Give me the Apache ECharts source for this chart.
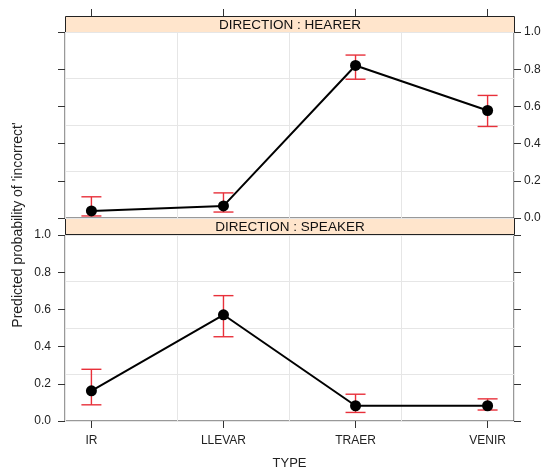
<!DOCTYPE html>
<html>
<head>
<meta charset="utf-8">
<script src="https://cdn.jsdelivr.net/npm/echarts@6/dist/echarts.min.js"></script>
<style>
  html, body { margin: 0; background: #fff; }
  #chart { width: 546px; height: 468px; }
</style>
</head>
<body>
<div id="chart"></div>
<script>
// categories (placed at x = 1..4)
var types = ['IR', 'LLEVAR', 'TRAER', 'VENIR'];
var typePos = [1, 2, 3, 4];

// DIRECTION : HEARER
var hearerFit = [0.038, 0.065, 0.82, 0.578];
var hearerLower = [0.011, 0.032, 0.746, 0.492];
var hearerUpper = [0.114, 0.135, 0.876, 0.659];

// DIRECTION : SPEAKER
var speakerFit = [0.162, 0.571, 0.082, 0.082];
var speakerLower = [0.087, 0.453, 0.046, 0.059];
var speakerUpper = [0.278, 0.674, 0.144, 0.119];

var chart = echarts.init(document.getElementById('chart'));

var font = 'Liberation Sans, Arial, sans-serif';
var axisColor = '#333';
var gridColor = '#e6e6e6';
var barColor = '#e8303a';

function points(fit) {
  return typePos.map(function (x, i) { return [x, fit[i]]; });
}
function bars(lower, upper) {
  return typePos.map(function (x, i) { return [x, lower[i], upper[i]]; });
}

// red error bar with caps
function errBar(params, api) {
  var x = api.value(0);
  var lo = api.coord([x, api.value(1)]);
  var hi = api.coord([x, api.value(2)]);
  var w = 10;
  var st = { stroke: barColor, lineWidth: 1.4 };
  return {
    type: 'group',
    children: [
      { type: 'line', shape: { x1: lo[0], y1: lo[1], x2: hi[0], y2: hi[1] }, style: st },
      { type: 'line', shape: { x1: lo[0] - w, y1: lo[1], x2: lo[0] + w, y2: lo[1] }, style: st },
      { type: 'line', shape: { x1: hi[0] - w, y1: hi[1], x2: hi[0] + w, y2: hi[1] }, style: st }
    ]
  };
}

// x axes: one carries the light grid lines, the other the ticks / labels
function gridX(g) {
  return {
    type: 'value', gridIndex: g, min: 0.8, max: 4.2, interval: 0.85,
    axisLine: { show: false, onZero: false }, axisTick: { show: false }, axisLabel: { show: false },
    splitLine: { show: true, lineStyle: { color: gridColor } }
  };
}
function tickX(g, pos, labels, offset) {
  return {
    type: 'value', gridIndex: g, position: pos, offset: offset || 0, min: 0.8, max: 4.2,
    axisLine: { show: false, onZero: false },
    axisTick: { show: true, customValues: typePos, length: 7, lineStyle: { color: axisColor } },
    axisLabel: {
      show: labels, customValues: typePos, margin: 14,
      fontFamily: font, fontSize: 12, color: '#222',
      formatter: function (v) { return types[Math.round(v) - 1]; }
    },
    splitLine: { show: false }
  };
}
function gridY(g) {
  return {
    type: 'value', gridIndex: g, min: 0, max: 1, interval: 0.25,
    axisLine: { show: false, onZero: false }, axisTick: { show: false }, axisLabel: { show: false },
    splitLine: { show: true, lineStyle: { color: gridColor } }
  };
}
function tickY(g, pos, labels, margin) {
  return {
    type: 'value', gridIndex: g, position: pos, min: 0, max: 1, interval: 0.2,
    axisLine: { show: false, onZero: false },
    axisTick: { show: true, length: 7, lineStyle: { color: axisColor } },
    axisLabel: {
      show: labels, margin: margin || 10, fontFamily: font, fontSize: 12, color: '#222',
      formatter: function (v) { return v.toFixed(1); }
    },
    splitLine: { show: false }
  };
}

function strip(top, text) {
  return {
    type: 'group', left: 65, top: top,
    children: [
      { type: 'rect', shape: { x: 0, y: 0, width: 449, height: 16 },
        style: { fill: '#ffe5cc', stroke: '#222', lineWidth: 1 } },
      { type: 'text', x: 224.5, y: 8.5,
        style: { text: text, fill: '#111', font: '13.5px ' + font, align: 'center', verticalAlign: 'middle' } }
    ]
  };
}

var option = {
  animation: false,
  backgroundColor: '#fff',
  grid: [
    { left: 65, right: 32, top: 32, height: 186, outerBoundsMode: 'none', containLabel: false,
      show: true, borderColor: axisColor, borderWidth: 1, backgroundColor: 'transparent' },
    { left: 65, right: 32, top: 235, height: 186, outerBoundsMode: 'none', containLabel: false,
      show: true, borderColor: axisColor, borderWidth: 1, backgroundColor: 'transparent' }
  ],
  xAxis: [
    gridX(0),
    tickX(0, 'top', false, 16),
    gridX(1),
    Object.assign(tickX(1, 'bottom', true), {
      name: 'TYPE', nameLocation: 'middle', nameGap: 36, nameMoveOverlap: false,
      nameTextStyle: { fontFamily: font, fontSize: 13, color: '#222' }
    })
  ],
  yAxis: [
    tickY(0, 'right', true, 10),
    tickY(0, 'left', false),
    gridY(0),
    tickY(1, 'left', true, 14),
    tickY(1, 'right', false),
    gridY(1)
  ],
  graphic: [
    strip(16, 'DIRECTION : HEARER'),
    strip(218, 'DIRECTION : SPEAKER'),
    {
      type: 'text', x: 18, y: 225, rotation: Math.PI / 2,
      style: { text: "Predicted probability of 'incorrect'", fill: '#222', font: '14px ' + font,
               align: 'center', verticalAlign: 'middle' }
    }
  ],
  series: [
    { type: 'custom', xAxisIndex: 0, yAxisIndex: 0, z: 2, renderItem: errBar,
      encode: { x: 0, y: [1, 2] }, data: bars(hearerLower, hearerUpper) },
    { type: 'line', xAxisIndex: 0, yAxisIndex: 0, z: 3, data: points(hearerFit),
      symbol: 'circle', symbolSize: 11, itemStyle: { color: '#000' },
      lineStyle: { color: '#000', width: 2 } },
    { type: 'custom', xAxisIndex: 2, yAxisIndex: 3, z: 2, renderItem: errBar,
      encode: { x: 0, y: [1, 2] }, data: bars(speakerLower, speakerUpper) },
    { type: 'line', xAxisIndex: 2, yAxisIndex: 3, z: 3, data: points(speakerFit),
      symbol: 'circle', symbolSize: 11, itemStyle: { color: '#000' },
      lineStyle: { color: '#000', width: 2 } }
  ]
};

chart.setOption(option);
</script>
</body>
</html>
